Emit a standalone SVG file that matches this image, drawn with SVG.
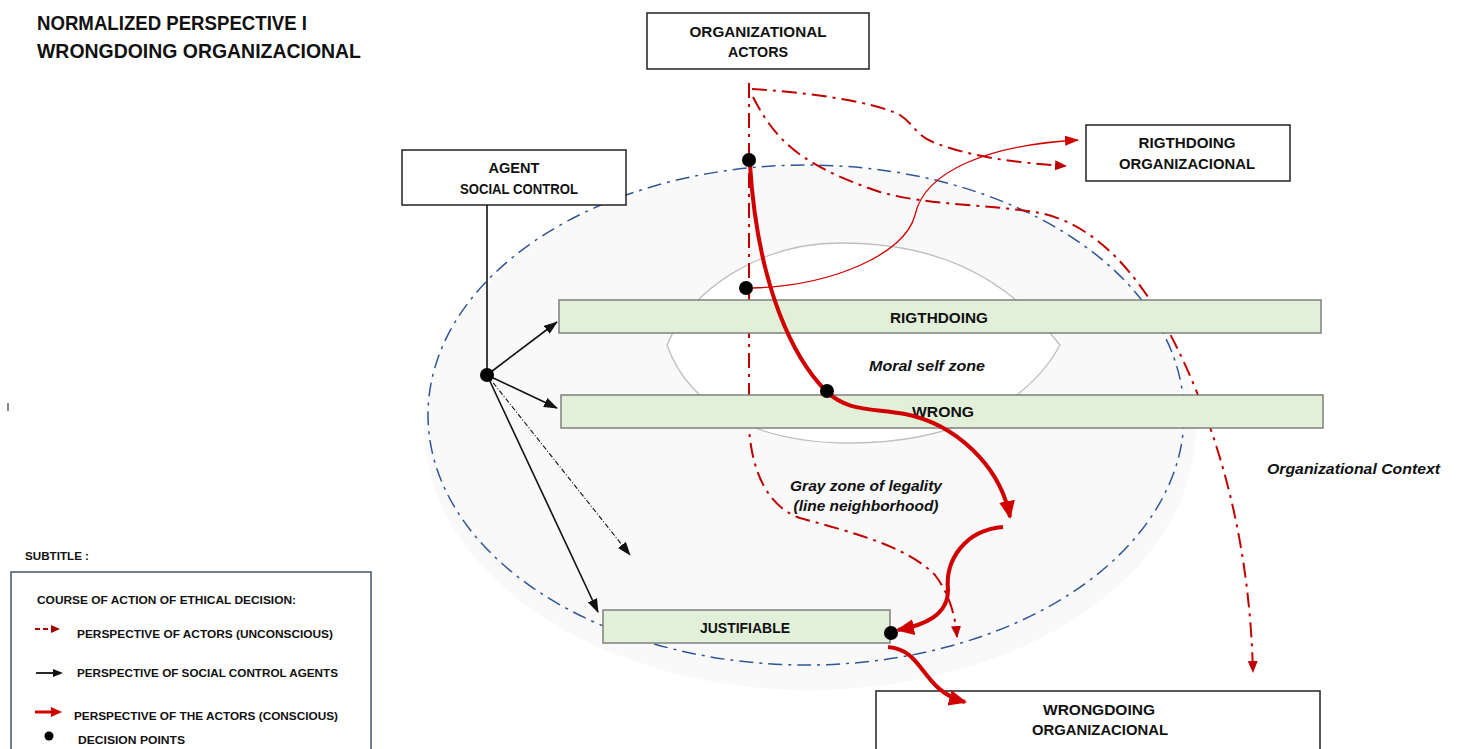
<svg xmlns="http://www.w3.org/2000/svg" width="1458" height="749" viewBox="0 0 1458 749">
<style>
.t{font-family:"Liberation Sans",Arial,sans-serif;font-weight:bold;fill:#111}
.ti{font-family:"Liberation Sans",Arial,sans-serif;font-weight:bold;font-style:italic;fill:#111}
.box{fill:#fff;stroke:#222;stroke-width:1.5}
.bar{fill:#e2efd9;stroke:#7f7f7f;stroke-width:1.5}
.dd{fill:none;stroke:#c00000;stroke-width:2;stroke-dasharray:15 6 3 6}
.thick{fill:none;stroke:#d00000;stroke-width:4}
.blk{fill:none;stroke:#111;stroke-width:1.6}
.dot{fill:#000}
</style>
<defs>
<marker id="ar" markerUnits="userSpaceOnUse" markerWidth="12" markerHeight="10" refX="11" refY="5" orient="auto"><path d="M0,0 L12,5 L0,10 Z" fill="#c00000"/></marker>
<marker id="ab" markerUnits="userSpaceOnUse" markerWidth="14" markerHeight="10" refX="13" refY="5" orient="auto"><path d="M0,0 L14,5 L0,10 Z" fill="#111"/></marker>
<marker id="at" markerUnits="userSpaceOnUse" markerWidth="18" markerHeight="16" refX="16" refY="8" orient="auto"><path d="M0,0 L18,8 L0,16 Z" fill="#d00000"/></marker>
<marker id="as" markerUnits="userSpaceOnUse" markerWidth="14" markerHeight="10" refX="13" refY="5" orient="auto"><path d="M0,0 L14,5 L0,10 Z" fill="#d00000"/></marker>
</defs>

<rect width="1458" height="749" fill="#fff"/>

<g id="title">
<text class="t" x="37" y="30" font-size="20" textLength="270" lengthAdjust="spacingAndGlyphs">NORMALIZED PERSPECTIVE I</text>
<text class="t" x="37" y="58" font-size="20" textLength="324" lengthAdjust="spacingAndGlyphs">WRONGDOING ORGANIZACIONAL</text>
</g>

<line x1="8" y1="403" x2="8" y2="411" stroke="#666" stroke-width="1.5"/>

<g id="context">
<ellipse cx="810" cy="428" rx="386" ry="262" fill="#f9f9f9"/>
<ellipse cx="806" cy="415" rx="378" ry="250" fill="none" stroke="#2f5597" stroke-width="1.5" stroke-dasharray="14 6 3 6"/>
<text class="ti" x="1267" y="474" font-size="14" textLength="173" lengthAdjust="spacingAndGlyphs">Organizational Context</text>
</g>

<g id="moral-self-zone">
<path d="M667,345 C 690,290 760,243 840,243 C 930,243 1000,270 1060,345 C 1030,400 960,443 850,443 C 760,443 690,410 667,345 Z" fill="#fff" stroke="#bfbfbf" stroke-width="1.3"/>
<text class="ti" x="869" y="371" font-size="14.5" textLength="116" lengthAdjust="spacingAndGlyphs">Moral self zone</text>
</g>

<g id="gray-zone">
<text class="ti" x="866" y="491" font-size="14.5" text-anchor="middle" textLength="152" lengthAdjust="spacingAndGlyphs">Gray zone of legality</text>
<text class="ti" x="866" y="511" font-size="14.5" text-anchor="middle" textLength="145" lengthAdjust="spacingAndGlyphs">(line neighborhood)</text>
</g>

<g id="organizational-actors">
<rect class="box" x="647" y="13" width="222" height="56"/>
<text class="t" x="758" y="37" font-size="15" text-anchor="middle" textLength="137" lengthAdjust="spacingAndGlyphs">ORGANIZATIONAL</text>
<text class="t" x="758" y="57" font-size="15" text-anchor="middle" textLength="60" lengthAdjust="spacingAndGlyphs">ACTORS</text>
</g>
<g id="rigthdoing-organizacional">
<rect class="box" x="1086" y="125" width="204" height="56"/>
<text class="t" x="1187" y="148" font-size="15" text-anchor="middle" textLength="97" lengthAdjust="spacingAndGlyphs">RIGTHDOING</text>
<text class="t" x="1187" y="169" font-size="15" text-anchor="middle" textLength="136" lengthAdjust="spacingAndGlyphs">ORGANIZACIONAL</text>
</g>
<g id="agent-social-control">
<rect class="box" x="402" y="150" width="224" height="55"/>
<text class="t" x="514" y="173" font-size="15" text-anchor="middle" textLength="51" lengthAdjust="spacingAndGlyphs">AGENT</text>
<text class="t" x="519" y="194" font-size="15" text-anchor="middle" textLength="118" lengthAdjust="spacingAndGlyphs">SOCIAL CONTROL</text>
</g>
<g id="wrongdoing-organizacional">
<rect class="box" x="876" y="691" width="444" height="60"/>
<text class="t" x="1099" y="715" font-size="15" text-anchor="middle" textLength="112" lengthAdjust="spacingAndGlyphs">WRONGDOING</text>
<text class="t" x="1100" y="735" font-size="15" text-anchor="middle" textLength="136" lengthAdjust="spacingAndGlyphs">ORGANIZACIONAL</text>
</g>

<g id="connectors-unconscious">
<path class="dd" d="M749,83 L749,428 C 752,475 770,508 800,518 C 850,532 905,545 935,575 C 950,595 955,615 957,637" marker-end="url(#ar)"/>
<path class="dd" d="M752,89 C 800,92 870,100 900,115 C 915,125 915,135 935,143 C 975,158 1020,163 1066,166" marker-end="url(#ar)"/>
<path class="dd" d="M753,97 C 775,140 800,165 880,192 C 930,206 990,204 1040,213 C 1110,228 1160,300 1198,395 C 1228,470 1250,560 1253,672" marker-end="url(#ar)"/>
</g>

<g id="rigthdoing">
<rect class="bar" x="559" y="300" width="762" height="33"/>
<text class="t" x="939" y="323" font-size="15" text-anchor="middle" textLength="98" lengthAdjust="spacingAndGlyphs">RIGTHDOING</text>
</g>
<g id="wrong">
<rect class="bar" x="561" y="395" width="762" height="33"/>
<text class="t" x="943" y="417" font-size="15" text-anchor="middle" textLength="62" lengthAdjust="spacingAndGlyphs">WRONG</text>
</g>
<g id="justifiable">
<rect class="bar" x="603" y="610" width="287" height="33"/>
<text class="t" x="745" y="633" font-size="15" text-anchor="middle" textLength="90" lengthAdjust="spacingAndGlyphs">JUSTIFIABLE</text>
</g>

<g id="connectors">
<path d="M752,288 C 830,286 905,255 915,215 C 925,170 990,145 1078,140" fill="none" stroke="#d00000" stroke-width="1.3" marker-end="url(#as)"/>
<path class="thick" d="M750,165 C 758,290 795,360 826,391 C 848,412 870,408 905,414 C 955,424 1000,465 1010,517" marker-end="url(#at)"/>
<path class="thick" d="M1003,527 C 965,530 945,560 948,590 C 948,615 925,625 898,630" marker-end="url(#at)"/>
<path class="thick" d="M888,647 C 925,650 920,690 965,702" marker-end="url(#at)"/>
<line class="blk" x1="487" y1="205" x2="487" y2="375"/>
<line class="blk" x1="487" y1="375" x2="557" y2="322" marker-end="url(#ab)"/>
<line class="blk" x1="487" y1="375" x2="557" y2="408" marker-end="url(#ab)"/>
<line x1="487" y1="375" x2="630" y2="555" fill="none" stroke="#111" stroke-width="1.1" stroke-dasharray="5 2 1 2" marker-end="url(#ab)"/>
<line class="blk" x1="487" y1="375" x2="598" y2="612" marker-end="url(#ab)"/>
</g>

<g id="decision-points">
<circle class="dot" cx="749" cy="160" r="7"/>
<circle class="dot" cx="746" cy="288" r="7"/>
<circle class="dot" cx="827" cy="391" r="7"/>
<circle class="dot" cx="487" cy="375" r="7"/>
<circle class="dot" cx="891" cy="633" r="7"/>
</g>

<g id="legend">
<text class="t" x="25" y="560" font-size="11" textLength="64" lengthAdjust="spacingAndGlyphs">SUBTITLE :</text>
<rect x="11" y="572" width="360" height="190" fill="#fff" stroke="#44546a" stroke-width="1.5"/>
<text class="t" x="37" y="604" font-size="11.5" textLength="259" lengthAdjust="spacingAndGlyphs">COURSE OF ACTION OF ETHICAL DECISION:</text>
<line x1="35" y1="629" x2="52" y2="629" stroke="#a00000" stroke-width="2" stroke-dasharray="5 3"/>
<path d="M51,625 L60,629 L51,633 Z" fill="#a00000"/>
<text class="t" x="77" y="638" font-size="11.5" textLength="256" lengthAdjust="spacingAndGlyphs">PERSPECTIVE OF ACTORS (UNCONSCIOUS)</text>
<line x1="36" y1="673" x2="54" y2="673" stroke="#111" stroke-width="1.8"/>
<path d="M53,669 L63,673 L53,677 Z" fill="#111"/>
<text class="t" x="77" y="677" font-size="11.5" textLength="261" lengthAdjust="spacingAndGlyphs">PERSPECTIVE OF SOCIAL CONTROL AGENTS</text>
<line x1="35" y1="712" x2="52" y2="712" stroke="#d00000" stroke-width="3"/>
<path d="M51,707 L62,712 L51,717 Z" fill="#d00000"/>
<text class="t" x="74" y="720" font-size="11.5" textLength="264" lengthAdjust="spacingAndGlyphs">PERSPECTIVE OF THE ACTORS (CONSCIOUS)</text>
<circle cx="49" cy="736" r="4.5" fill="#000"/>
<text class="t" x="78" y="744" font-size="11.5" textLength="107" lengthAdjust="spacingAndGlyphs">DECISION POINTS</text>
</g>
</svg>
